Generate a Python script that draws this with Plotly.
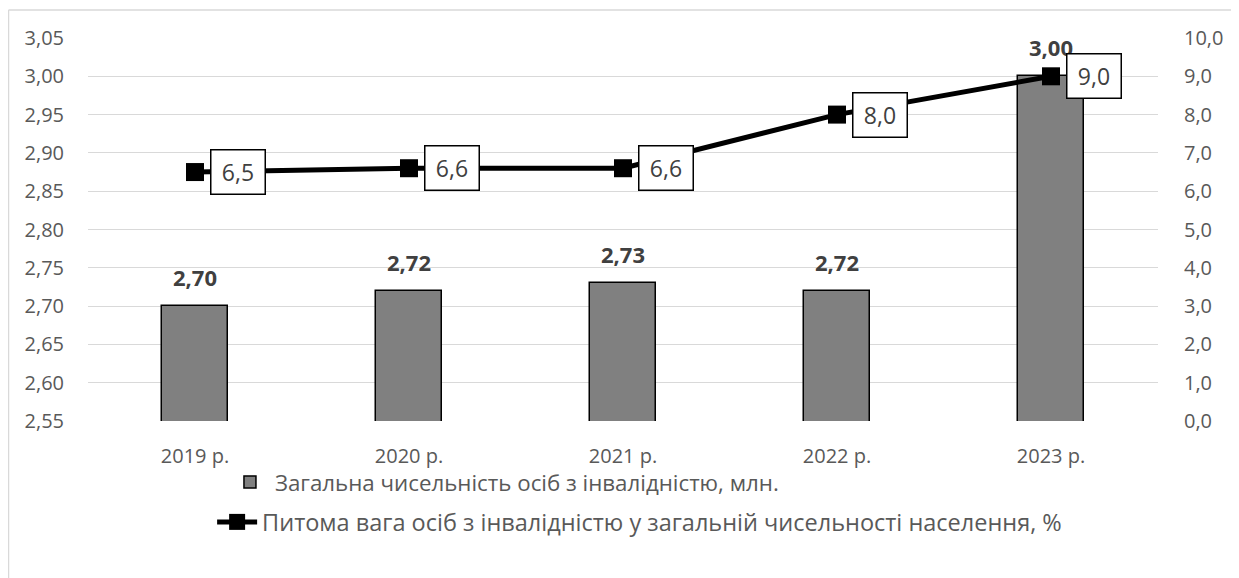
import plotly.graph_objects as go

years = ["2019 р.", "2020 р.", "2021 р.", "2022 р.", "2023 р."]
total_mln = [2.70, 2.72, 2.73, 2.72, 3.00]
share_pct = [6.5, 6.6, 6.6, 8.0, 9.0]

bar_name = "Загальна чисельність осіб з інвалідністю, млн."
line_name = "Питома вага осіб з інвалідністю у загальній чисельності населення, %"

FONT = "'Open Sans', 'Noto Sans', sans-serif"
TXT = "#595959"

fig = go.Figure()
fig.add_trace(go.Bar(
    x=years, y=total_mln, name=bar_name, width=0.31,
    marker=dict(color="#808080", line=dict(color="#000000", width=1.5)),
    legend="legend",
))
fig.add_trace(go.Scatter(
    x=years, y=share_pct, name=line_name, yaxis="y2", mode="lines+markers",
    line=dict(color="#000000", width=5),
    marker=dict(symbol="square", size=18, color="#000000"),
    legend="legend2",
))

# bar value labels (bold, above bars)
for yr, v in zip(years, total_mln):
    fig.add_annotation(x=yr, y=v, yref="y", text="<b>" + f"{v:.2f}".replace(".", ",") + "</b>",
                       showarrow=False, yshift=29,
                       font=dict(family=FONT, size=22, color="#404040"))

# line value labels (boxed, right of markers)
for yr, v in zip(years, share_pct):
    fig.add_annotation(x=yr, y=v, yref="y2", text=f"{v:.1f}".replace(".", ","),
                       showarrow=False, xshift=43, width=51, height=41,
                       bgcolor="white", bordercolor="#000000", borderwidth=1.5, borderpad=1,
                       font=dict(family=FONT, size=23, color="#404040"))

# outer chart border (partly cropped)
fig.add_shape(type="line", xref="paper", yref="paper", x0=-0.0743, x1=1.2, y0=1.0731, y1=1.0731,
              line=dict(color="#d9d9d9", width=1.5))
fig.add_shape(type="line", xref="paper", yref="paper", x0=-0.0743, x1=-0.0743, y0=1.0731, y1=-0.5,
              line=dict(color="#d9d9d9", width=1.5))

fig.update_layout(
    width=1231, height=570,
    margin=dict(l=80, r=81, t=30, b=157),
    paper_bgcolor="white", plot_bgcolor="white",
    separators=", ",
    font=dict(family=FONT, size=20, color=TXT),
    bargap=0,
    xaxis=dict(showgrid=False, showline=False, ticks="outside", ticklen=17, tickcolor="rgba(0,0,0,0)",
               tickfont=dict(size=20, color=TXT)),
    yaxis=dict(range=[2.55, 3.05], dtick=0.05, tickformat=".2f", showgrid=True, gridcolor="#d9d9d9",
               gridwidth=1.3, zeroline=False, showline=False, ticks="outside", ticklen=19,
               tickcolor="rgba(0,0,0,0)", tickfont=dict(size=20, color=TXT)),
    yaxis2=dict(range=[0, 10], dtick=1, tickformat=".1f", overlaying="y", side="right", showgrid=False,
                zeroline=False, showline=False, ticks="outside", ticklen=21,
                tickcolor="rgba(0,0,0,0)", tickfont=dict(size=20, color=TXT)),
    legend=dict(x=0.128, y=-0.159, xanchor="left", yanchor="middle", bgcolor="rgba(0,0,0,0)",
                font=dict(family=FONT, size=22.3, color=TXT), itemwidth=40),
    legend2=dict(x=0.116, y=-0.264, xanchor="left", yanchor="middle", bgcolor="rgba(0,0,0,0)",
                 font=dict(family=FONT, size=23.5, color=TXT), itemwidth=40),
    showlegend=True,
)

fig.write_html("out.html")
